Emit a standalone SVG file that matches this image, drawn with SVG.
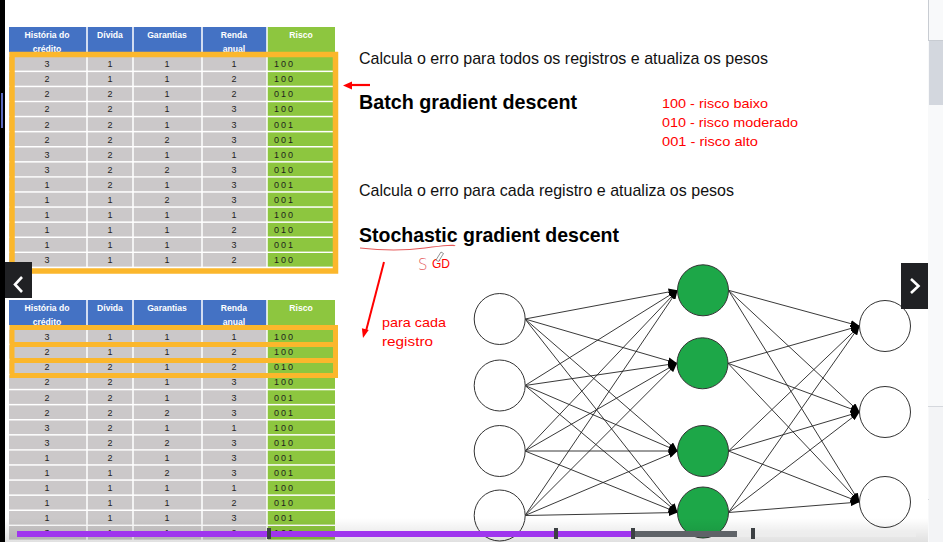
<svg xmlns="http://www.w3.org/2000/svg" xmlns:xlink="http://www.w3.org/1999/xlink" width="943" height="542" viewBox="0 0 943 542">
<style>
.h{font-family:"Liberation Sans",Arial,sans-serif;font-size:8.6px;font-weight:bold;fill:#fff;text-anchor:middle}
.d{font-family:"Liberation Sans",Arial,sans-serif;font-size:9px;fill:#1e1e1e;text-anchor:middle}
.r{font-family:"Liberation Sans",Arial,sans-serif;font-size:9px;fill:#1e1e1e;letter-spacing:2px}
.t{font-family:"Liberation Sans",Arial,sans-serif;font-size:17px;fill:#111}
.b{font-family:"Liberation Sans",Arial,sans-serif;font-size:21px;font-weight:bold;fill:#000}
.red{font-family:"Liberation Sans",Arial,sans-serif;font-size:13.5px;fill:#f00}
.col{stroke:#fff;stroke-width:1.5}
.org{fill:none;stroke:#FBB72C;stroke-width:5.5}
.in{fill:#fff;stroke:#333;stroke-width:1}
.hid{fill:#1DA748;stroke:#333;stroke-width:1}
.e{stroke:#222;stroke-width:0.9;marker-end:url(#ah)}
</style>
<defs>
<marker id="ah" markerUnits="userSpaceOnUse" markerWidth="9" markerHeight="7" refX="9" refY="3.5" orient="auto"><path d="M0,0 L9,3.5 L0,7 Z" fill="#000"/></marker>
<g id="row"><rect x="9" y="0" width="258" height="13.6" fill="#CBC8C9"/><rect x="267" y="0" width="68" height="13.6" fill="#8DC63F"/></g>
<linearGradient id="shade" x1="0" y1="0" x2="0" y2="1"><stop offset="0" stop-color="#000" stop-opacity="0"/><stop offset="1" stop-color="#000" stop-opacity="0.12"/></linearGradient>
</defs>
<rect width="943" height="542" fill="#fff"/>
<rect x="0" y="0" width="5" height="542" fill="#000"/>
<rect x="1" y="93" width="2" height="35" fill="#5C6BC0"/>
<!-- right panel -->
<rect x="928" y="0" width="15" height="542" fill="#F8F9FA"/>
<line x1="928.5" y1="0" x2="928.5" y2="40" stroke="#C8CCD2"/>
<line x1="928" y1="40.5" x2="943" y2="40.5" stroke="#C8CCD2"/>
<rect x="929" y="41" width="14" height="64" fill="#D3D7DE"/>
<line x1="928" y1="406.5" x2="943" y2="406.5" stroke="#D5D8DD"/>
<line x1="928" y1="499.5" x2="943" y2="499.5" stroke="#D5D8DD"/>
<rect x="929" y="407" width="14" height="135" fill="#F3F4F6"/>

<!-- top table -->
<g id="table-top">
<rect x="9" y="27" width="258" height="25" fill="#4472C4"/>
<rect x="267" y="27" width="68" height="25" fill="#8DC63F"/>
<use xlink:href="#row" y="57"/><use xlink:href="#row" y="72.1"/><use xlink:href="#row" y="87.2"/><use xlink:href="#row" y="102.2"/><use xlink:href="#row" y="117.3"/><use xlink:href="#row" y="132.4"/><use xlink:href="#row" y="147.5"/><use xlink:href="#row" y="162.6"/><use xlink:href="#row" y="177.6"/><use xlink:href="#row" y="192.7"/><use xlink:href="#row" y="207.8"/><use xlink:href="#row" y="222.9"/><use xlink:href="#row" y="238"/><use xlink:href="#row" y="253"/>
<path class="col" d="M87,27V267M133,27V267M202,27V267M267,27V267"/>
<text class="h" x="47" y="37.5">História do</text><text class="h" x="47" y="51.5">crédito</text>
<text class="h" x="110" y="37.5">Dívida</text>
<text class="h" x="167" y="37.5">Garantias</text>
<text class="h" x="234" y="37.5">Renda</text><text class="h" x="234" y="51.5">anual</text>
<text class="h" x="301" y="37.5">Risco</text>
<text class="d" y="67.2"><tspan x="47">3</tspan><tspan x="110">1</tspan><tspan x="167">1</tspan><tspan x="234">1</tspan></text><text class="r" x="274" y="67.2">100</text>
<text class="d" y="82.3"><tspan x="47">2</tspan><tspan x="110">1</tspan><tspan x="167">1</tspan><tspan x="234">2</tspan></text><text class="r" x="274" y="82.3">100</text>
<text class="d" y="97.4"><tspan x="47">2</tspan><tspan x="110">2</tspan><tspan x="167">1</tspan><tspan x="234">2</tspan></text><text class="r" x="274" y="97.4">010</text>
<text class="d" y="112.4"><tspan x="47">2</tspan><tspan x="110">2</tspan><tspan x="167">1</tspan><tspan x="234">3</tspan></text><text class="r" x="274" y="112.4">100</text>
<text class="d" y="127.5"><tspan x="47">2</tspan><tspan x="110">2</tspan><tspan x="167">1</tspan><tspan x="234">3</tspan></text><text class="r" x="274" y="127.5">001</text>
<text class="d" y="142.6"><tspan x="47">2</tspan><tspan x="110">2</tspan><tspan x="167">2</tspan><tspan x="234">3</tspan></text><text class="r" x="274" y="142.6">001</text>
<text class="d" y="157.7"><tspan x="47">3</tspan><tspan x="110">2</tspan><tspan x="167">1</tspan><tspan x="234">1</tspan></text><text class="r" x="274" y="157.7">100</text>
<text class="d" y="172.8"><tspan x="47">3</tspan><tspan x="110">2</tspan><tspan x="167">2</tspan><tspan x="234">3</tspan></text><text class="r" x="274" y="172.8">010</text>
<text class="d" y="187.8"><tspan x="47">1</tspan><tspan x="110">2</tspan><tspan x="167">1</tspan><tspan x="234">3</tspan></text><text class="r" x="274" y="187.8">001</text>
<text class="d" y="202.9"><tspan x="47">1</tspan><tspan x="110">1</tspan><tspan x="167">2</tspan><tspan x="234">3</tspan></text><text class="r" x="274" y="202.9">001</text>
<text class="d" y="218"><tspan x="47">1</tspan><tspan x="110">1</tspan><tspan x="167">1</tspan><tspan x="234">1</tspan></text><text class="r" x="274" y="218">100</text>
<text class="d" y="233.1"><tspan x="47">1</tspan><tspan x="110">1</tspan><tspan x="167">1</tspan><tspan x="234">2</tspan></text><text class="r" x="274" y="233.1">010</text>
<text class="d" y="248.2"><tspan x="47">1</tspan><tspan x="110">1</tspan><tspan x="167">1</tspan><tspan x="234">3</tspan></text><text class="r" x="274" y="248.2">001</text>
<text class="d" y="263.2"><tspan x="47">3</tspan><tspan x="110">1</tspan><tspan x="167">1</tspan><tspan x="234">2</tspan></text><text class="r" x="274" y="263.2">100</text>
<rect class="org" x="12" y="54.5" width="323.5" height="216.5"/>
</g>

<!-- bottom table -->
<g id="table-bottom">
<rect x="9" y="300" width="258" height="25" fill="#4472C4"/>
<rect x="267" y="300" width="68" height="25" fill="#8DC63F"/>
<use xlink:href="#row" y="330"/><use xlink:href="#row" y="345.1"/><use xlink:href="#row" y="360.2"/><use xlink:href="#row" y="375.2"/><use xlink:href="#row" y="390.3"/><use xlink:href="#row" y="405.4"/><use xlink:href="#row" y="420.5"/><use xlink:href="#row" y="435.6"/><use xlink:href="#row" y="450.6"/><use xlink:href="#row" y="465.7"/><use xlink:href="#row" y="480.8"/><use xlink:href="#row" y="495.9"/><use xlink:href="#row" y="511"/><use xlink:href="#row" y="526"/>
<path class="col" d="M87,300V542M133,300V542M202,300V542M267,300V542"/>
<text class="h" x="47" y="310.5">História do</text><text class="h" x="47" y="324.5">crédito</text>
<text class="h" x="110" y="310.5">Dívida</text>
<text class="h" x="167" y="310.5">Garantias</text>
<text class="h" x="234" y="310.5">Renda</text><text class="h" x="234" y="324.5">anual</text>
<text class="h" x="301" y="310.5">Risco</text>
<text class="d" y="340.2"><tspan x="47">3</tspan><tspan x="110">1</tspan><tspan x="167">1</tspan><tspan x="234">1</tspan></text><text class="r" x="274" y="340.2">100</text>
<text class="d" y="355.3"><tspan x="47">2</tspan><tspan x="110">1</tspan><tspan x="167">1</tspan><tspan x="234">2</tspan></text><text class="r" x="274" y="355.3">100</text>
<text class="d" y="370.4"><tspan x="47">2</tspan><tspan x="110">2</tspan><tspan x="167">1</tspan><tspan x="234">2</tspan></text><text class="r" x="274" y="370.4">010</text>
<text class="d" y="385.4"><tspan x="47">2</tspan><tspan x="110">2</tspan><tspan x="167">1</tspan><tspan x="234">3</tspan></text><text class="r" x="274" y="385.4">100</text>
<text class="d" y="400.5"><tspan x="47">2</tspan><tspan x="110">2</tspan><tspan x="167">1</tspan><tspan x="234">3</tspan></text><text class="r" x="274" y="400.5">001</text>
<text class="d" y="415.6"><tspan x="47">2</tspan><tspan x="110">2</tspan><tspan x="167">2</tspan><tspan x="234">3</tspan></text><text class="r" x="274" y="415.6">001</text>
<text class="d" y="430.7"><tspan x="47">3</tspan><tspan x="110">2</tspan><tspan x="167">1</tspan><tspan x="234">1</tspan></text><text class="r" x="274" y="430.7">100</text>
<text class="d" y="445.8"><tspan x="47">3</tspan><tspan x="110">2</tspan><tspan x="167">2</tspan><tspan x="234">3</tspan></text><text class="r" x="274" y="445.8">010</text>
<text class="d" y="460.8"><tspan x="47">1</tspan><tspan x="110">2</tspan><tspan x="167">1</tspan><tspan x="234">3</tspan></text><text class="r" x="274" y="460.8">001</text>
<text class="d" y="475.9"><tspan x="47">1</tspan><tspan x="110">1</tspan><tspan x="167">2</tspan><tspan x="234">3</tspan></text><text class="r" x="274" y="475.9">001</text>
<text class="d" y="491"><tspan x="47">1</tspan><tspan x="110">1</tspan><tspan x="167">1</tspan><tspan x="234">1</tspan></text><text class="r" x="274" y="491">100</text>
<text class="d" y="506.1"><tspan x="47">1</tspan><tspan x="110">1</tspan><tspan x="167">1</tspan><tspan x="234">2</tspan></text><text class="r" x="274" y="506.1">010</text>
<text class="d" y="521.2"><tspan x="47">1</tspan><tspan x="110">1</tspan><tspan x="167">1</tspan><tspan x="234">3</tspan></text><text class="r" x="274" y="521.2">001</text>
<text class="d" y="536.2"><tspan x="47">3</tspan><tspan x="110">1</tspan><tspan x="167">1</tspan><tspan x="234">2</tspan></text><text class="r" x="274" y="536.2">100</text>
<path fill="none" stroke="#FBB72C" stroke-width="5" d="M12,327.5V375.5M335.5,327.5V375.5M9.5,327.5H338M9.5,344.5H338M9.5,360.5H338M9.5,375.5H338"/>
</g>

<!-- texts -->
<text class="t" x="359" y="64" textLength="409" lengthAdjust="spacingAndGlyphs">Calcula o erro para todos os registros e atualiza os pesos</text>
<text class="b" x="359" y="109" textLength="218" lengthAdjust="spacingAndGlyphs">Batch gradient descent</text>
<text class="red" x="662" y="108" textLength="106" lengthAdjust="spacingAndGlyphs">100 - risco baixo</text>
<text class="red" x="662" y="127" textLength="136" lengthAdjust="spacingAndGlyphs">010 - risco moderado</text>
<text class="red" x="662" y="146" textLength="96" lengthAdjust="spacingAndGlyphs">001 - risco alto</text>
<text class="t" x="359" y="196" textLength="375" lengthAdjust="spacingAndGlyphs">Calcula o erro para cada registro e atualiza os pesos</text>
<text class="b" x="359" y="242" textLength="260" lengthAdjust="spacingAndGlyphs">Stochastic gradient descent</text>
<text class="red" x="382" y="327" textLength="64" lengthAdjust="spacingAndGlyphs">para cada</text>
<text class="red" x="382" y="346" textLength="51" lengthAdjust="spacingAndGlyphs">registro</text>

<!-- annotations -->
<path d="M360,248 Q395,252 425,248 T455,246" fill="none" stroke="#E55A5A" stroke-width="1.2"/>
<text x="418" y="270" font-family="'DejaVu Sans',sans-serif" font-weight="200" font-size="15" fill="#E55A5A">S</text>
<text class="red" x="432" y="268" font-size="13" textLength="18" lengthAdjust="spacingAndGlyphs">GD</text>
<path d="M436,260 L441,252 L443.5,253.5 L438.5,261.5 Z" fill="#fff" stroke="#777" stroke-width="0.8"/>
<line x1="370" y1="85" x2="350" y2="85" stroke="#f00" stroke-width="2.2"/>
<path d="M343,85.5 L352,81.5 L352,89.5 Z" fill="#f00"/>
<line x1="384" y1="262" x2="366" y2="331" stroke="#f00" stroke-width="2"/>
<path d="M363,338 L368.7,330 L361.9,328.3 Z" fill="#f00"/>

<!-- connectors -->
<g id="connectors">
<line class="e" x1="525" y1="319" x2="677.5" y2="290.3"/>
<line class="e" x1="525" y1="319" x2="677" y2="363.3"/>
<line class="e" x1="525" y1="319" x2="677.5" y2="451"/>
<line class="e" x1="525" y1="319" x2="677.5" y2="512.5"/>
<line class="e" x1="525" y1="385.5" x2="677.5" y2="290.3"/>
<line class="e" x1="525" y1="385.5" x2="677" y2="363.3"/>
<line class="e" x1="525" y1="385.5" x2="677.5" y2="451"/>
<line class="e" x1="525" y1="385.5" x2="677.5" y2="512.5"/>
<line class="e" x1="525" y1="451" x2="677.5" y2="290.3"/>
<line class="e" x1="525" y1="451" x2="677" y2="363.3"/>
<line class="e" x1="525" y1="451" x2="677.5" y2="451"/>
<line class="e" x1="525" y1="451" x2="677.5" y2="512.5"/>
<line class="e" x1="525" y1="515.5" x2="677.5" y2="290.3"/>
<line class="e" x1="525" y1="515.5" x2="677" y2="363.3"/>
<line class="e" x1="525" y1="515.5" x2="677.5" y2="451"/>
<line class="e" x1="525" y1="515.5" x2="677.5" y2="512.5"/>
<line class="e" x1="728.5" y1="290.3" x2="859.5" y2="326"/>
<line class="e" x1="728.5" y1="290.3" x2="859.5" y2="412"/>
<line class="e" x1="728.5" y1="290.3" x2="859.5" y2="502"/>
<line class="e" x1="728" y1="363.3" x2="859.5" y2="326"/>
<line class="e" x1="728" y1="363.3" x2="859.5" y2="412"/>
<line class="e" x1="728" y1="363.3" x2="859.5" y2="502"/>
<line class="e" x1="728.5" y1="451" x2="859.5" y2="326"/>
<line class="e" x1="728.5" y1="451" x2="859.5" y2="412"/>
<line class="e" x1="728.5" y1="451" x2="859.5" y2="502"/>
<line class="e" x1="728.5" y1="512.5" x2="859.5" y2="326"/>
<line class="e" x1="728.5" y1="512.5" x2="859.5" y2="412"/>
<line class="e" x1="728.5" y1="512.5" x2="859.5" y2="502"/>
</g>

<!-- nodes -->
<g id="in1"><circle class="in" cx="499.7" cy="319" r="25.5"/></g>
<g id="in2"><circle class="in" cx="499.7" cy="385.5" r="25.5"/></g>
<g id="in3"><circle class="in" cx="499.7" cy="451" r="25.5"/></g>
<g id="in4"><circle class="in" cx="499.7" cy="515.5" r="25.5"/></g>
<g id="hid1"><circle class="hid" cx="703" cy="290.3" r="25.5"/></g>
<g id="hid2"><circle class="hid" cx="702.5" cy="363.3" r="25.5"/></g>
<g id="hid3"><circle class="hid" cx="703" cy="451" r="25.5"/></g>
<g id="hid4"><circle class="hid" cx="703" cy="512.5" r="25.5"/></g>
<g id="out1"><circle class="in" cx="885" cy="326" r="25.5"/></g>
<g id="out2"><circle class="in" cx="885" cy="412" r="25.5"/></g>
<g id="out3"><circle class="in" cx="885" cy="502" r="25.5"/></g>

<!-- nav buttons -->
<rect x="5" y="262" width="27" height="36" fill="#202124"/>
<polyline points="22,277 15,284.5 22,292" fill="none" stroke="#fff" stroke-width="2.6"/>
<rect x="901" y="263" width="27" height="46" fill="#202124"/>
<polyline points="911,279 918.5,286 911,293" fill="none" stroke="#fff" stroke-width="2.6"/>

<!-- progress bar -->
<rect x="5" y="518" width="923" height="24" fill="url(#shade)"/>
<rect x="17" y="531" width="617" height="6" fill="#9F35EE"/>
<rect x="634" y="531" width="103" height="6" fill="#5F6368"/>
<rect x="737" y="531" width="179" height="6" fill="#EDEDED" fill-opacity="0.8"/>
<rect x="267" y="528" width="4" height="11" fill="#3C4043"/>
<rect x="554" y="528" width="4" height="11" fill="#3C4043"/>
<rect x="631" y="528" width="4" height="11" fill="#3C4043"/>
<rect x="751" y="528" width="4" height="11" fill="#3C4043"/>
</svg>
